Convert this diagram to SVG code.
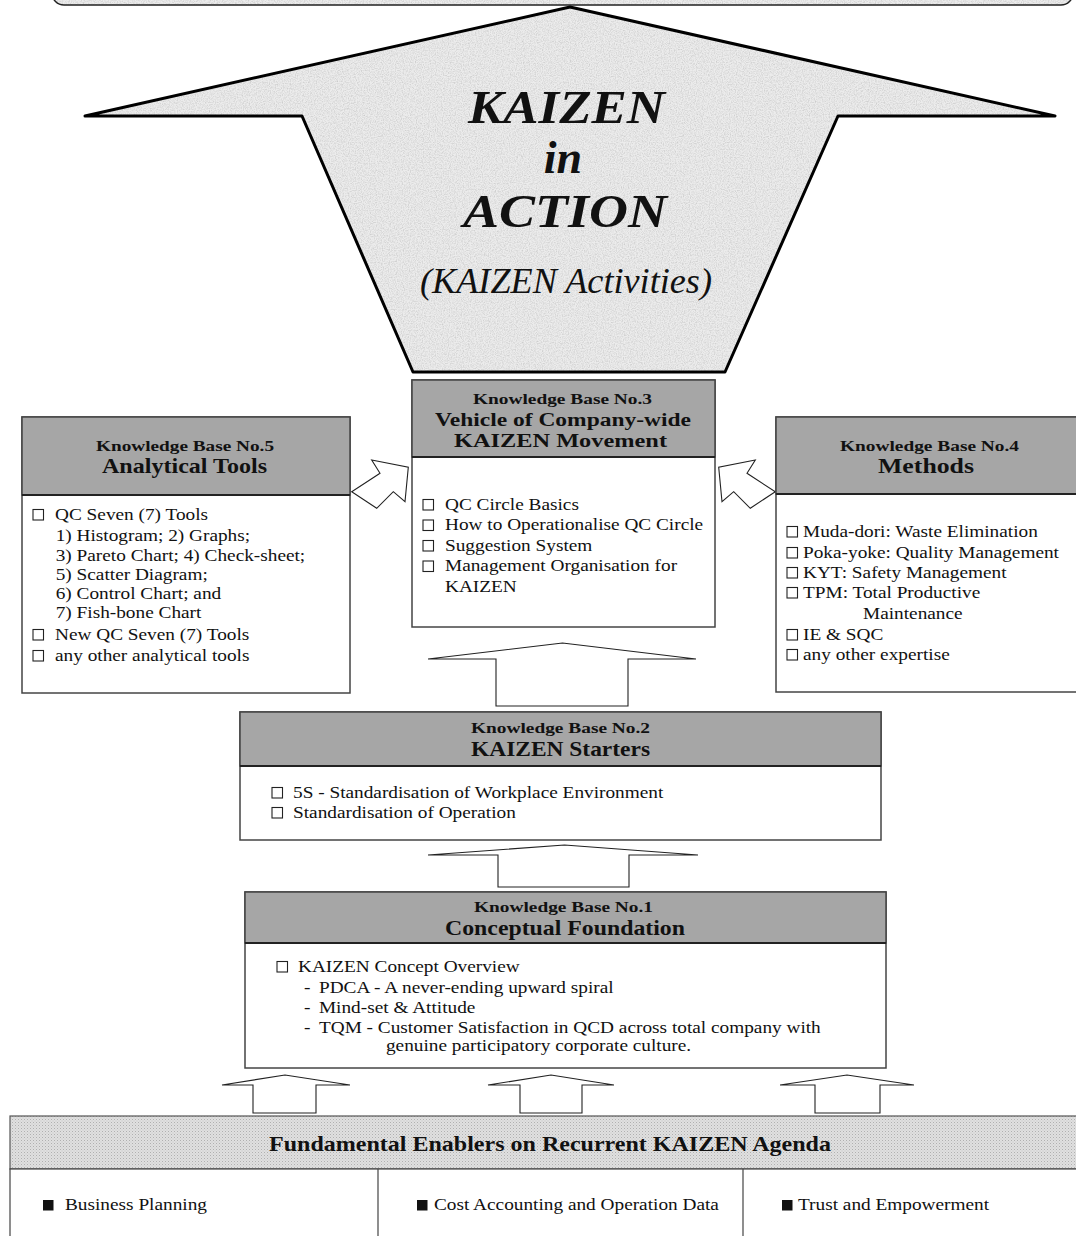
<svg xmlns="http://www.w3.org/2000/svg" width="1076" height="1236" viewBox="0 0 1076 1236">
<style>
text{font-family:"Liberation Serif","Times New Roman",serif;fill:#111}
.b{font-size:16.5px}
.hk{font-size:15px;font-weight:bold;text-anchor:middle}
.ht{font-size:21px;font-weight:bold;text-anchor:middle}
.ht3{font-size:18px;font-weight:bold;text-anchor:middle}
.box{fill:#fff;stroke:#444;stroke-width:1.5}
.hdr{fill:#a6a6a6;stroke:#444;stroke-width:1.5}
.hl{stroke:#222;stroke-width:2}
.cb{fill:#fff;stroke:#222;stroke-width:1.1}
.sq{fill:#111}
.arr{fill:#fff;stroke:#222;stroke-width:1.1;stroke-linejoin:miter}
.big{font-weight:bold;font-style:italic;font-size:46px;text-anchor:middle}
</style>
<defs>
<filter id="grain" x="0" y="0" width="100%" height="100%">
<feTurbulence type="fractalNoise" baseFrequency="0.85" numOctaves="2" seed="4" result="n"/>
<feColorMatrix in="n" type="matrix" values="0 0 0 0 0.55 0 0 0 0 0.55 0 0 0 0 0.55 1.6 0 0 0 -0.6" result="g"/>
<feComposite in="g" in2="SourceAlpha" operator="in" result="gm"/>
<feMerge><feMergeNode in="SourceGraphic"/><feMergeNode in="gm"/></feMerge>
</filter>
<pattern id="dots" width="3" height="3" patternUnits="userSpaceOnUse">
<rect width="3" height="3" fill="#e0e0e0"/><rect width="1" height="1" fill="#b0b0b0"/><rect x="1.5" y="1.5" width="1" height="1" fill="#c4c4c4"/>
</pattern>
</defs>
<rect width="1076" height="1236" fill="#fff"/>

<g id="top-bar">
<rect x="52" y="-30" width="1021" height="35" rx="12" fill="#ececec" filter="url(#grain)"/>
<rect x="52" y="-30" width="1021" height="35" rx="12" fill="none" stroke="#222" stroke-width="1.5"/>
</g>

<g id="kaizen-in-action">
<polygon points="570,7 1055,116 838,116 725,372 413,372 302,116 85,116" fill="#ececec" filter="url(#grain)"/>
<polygon points="570,7 1055,116 838,116 725,372 413,372 302,116 85,116" fill="none" stroke="#000" stroke-width="3" stroke-linejoin="round"/>
<text class="big" x="566.5" y="123" textLength="197" lengthAdjust="spacingAndGlyphs">KAIZEN</text>
<text class="big" x="563" y="173">in</text>
<text class="big" x="565" y="227" textLength="204" lengthAdjust="spacingAndGlyphs">ACTION</text>
<text x="566" y="293" style="font-size:36px;font-style:italic;text-anchor:middle" textLength="292" lengthAdjust="spacingAndGlyphs">(KAIZEN Activities)</text>
</g>

<g id="connectors">
<polygon class="arr" points="371.7,460 408.3,467.3 405,501.7 393.3,491.7 376.7,508.3 351.7,491.7 380,473.3"/>
<polygon class="arr" points="755.3,460 718.7,467.3 722,501.7 733.7,491.7 750.3,508.3 775.3,491.7 747,473.3"/>
<polygon class="arr" points="428,659 562.5,643 696,659 628,659 628,706 496,706 496,659"/>
<polygon class="arr" points="428,855 564.5,845 698,855 629,855 629,887 498,887 498,855"/>
<polygon class="arr" points="222,1085 285,1075 350,1085 316,1085 316,1113 253,1113 253,1085"/>
<polygon class="arr" points="488,1085 551,1075 614,1085 582,1085 582,1113 520,1113 520,1085"/>
<polygon class="arr" points="780,1085 847,1075 914,1085 880,1085 880,1113 815,1113 815,1085"/>
</g>

<g id="kb3">
<rect class="box" x="412" y="380" width="303" height="247"/>
<rect class="hdr" x="412" y="380" width="303" height="77"/>
<line class="hl" x1="412" y1="457" x2="715" y2="457"/>
<text class="hk" x="562.5" y="404" textLength="179" lengthAdjust="spacingAndGlyphs">Knowledge Base No.3</text>
<text class="ht3" x="563" y="426" textLength="256" lengthAdjust="spacingAndGlyphs">Vehicle of Company-wide</text>
<text class="ht3" x="560.5" y="447" textLength="213" lengthAdjust="spacingAndGlyphs">KAIZEN Movement</text>
<rect class="cb" x="423" y="499.5" width="10.5" height="10.5"/>
<rect class="cb" x="423" y="520" width="10.5" height="10.5"/>
<rect class="cb" x="423" y="540.5" width="10.5" height="10.5"/>
<rect class="cb" x="423" y="561" width="10.5" height="10.5"/>
<g transform="translate(445 0) scale(1.17 1)">
<text class="b" x="0" y="510">QC Circle Basics</text>
<text class="b" x="0" y="530.5">How to Operationalise QC Circle</text>
<text class="b" x="0" y="551">Suggestion System</text>
<text class="b" x="0" y="571.5">Management  Organisation  for</text>
<text class="b" x="0" y="592">KAIZEN</text>
</g>
</g>

<g id="kb5">
<rect class="box" x="22" y="417" width="328" height="276"/>
<rect class="hdr" x="22" y="417" width="328" height="78"/>
<line class="hl" x1="22" y1="495" x2="350" y2="495"/>
<text class="hk" x="185" y="451" textLength="178" lengthAdjust="spacingAndGlyphs">Knowledge Base No.5</text>
<text class="ht" x="184.5" y="473" textLength="165" lengthAdjust="spacingAndGlyphs">Analytical  Tools</text>
<rect class="cb" x="33" y="509.5" width="10.5" height="10.5"/>
<rect class="cb" x="33" y="629.5" width="10.5" height="10.5"/>
<rect class="cb" x="33" y="650.5" width="10.5" height="10.5"/>
<g transform="translate(55 0) scale(1.17 1)">
<text class="b" x="0" y="520">QC Seven (7) Tools</text>
<text class="b" x="0.6" y="541">1) Histogram; 2) Graphs;</text>
<text class="b" x="0.6" y="561">3) Pareto Chart; 4) Check-sheet;</text>
<text class="b" x="0.6" y="580">5) Scatter Diagram;</text>
<text class="b" x="0.6" y="599">6) Control Chart; and</text>
<text class="b" x="0.6" y="618">7) Fish-bone Chart</text>
<text class="b" x="0" y="640">New QC Seven (7) Tools</text>
<text class="b" x="0" y="661">any other analytical  tools</text>
</g>
</g>

<g id="kb4">
<rect class="box" x="776" y="417" width="310" height="275"/>
<rect class="hdr" x="776" y="417" width="310" height="77"/>
<line class="hl" x1="776" y1="494" x2="1086" y2="494"/>
<text class="hk" x="929.5" y="451" textLength="179" lengthAdjust="spacingAndGlyphs">Knowledge Base No.4</text>
<text class="ht" x="926" y="473" textLength="96" lengthAdjust="spacingAndGlyphs">Methods</text>
<rect class="cb" x="787" y="526.5" width="10.5" height="10.5"/>
<rect class="cb" x="787" y="547.5" width="10.5" height="10.5"/>
<rect class="cb" x="787" y="567.5" width="10.5" height="10.5"/>
<rect class="cb" x="787" y="587.5" width="10.5" height="10.5"/>
<rect class="cb" x="787" y="629.5" width="10.5" height="10.5"/>
<rect class="cb" x="787" y="649.5" width="10.5" height="10.5"/>
<g transform="translate(803 0) scale(1.17 1)">
<text class="b" x="0" y="537">Muda-dori: Waste Elimination</text>
<text class="b" x="0" y="558">Poka-yoke: Quality Management</text>
<text class="b" x="0" y="578">KYT:  Safety Management</text>
<text class="b" x="0" y="598">TPM:  Total Productive</text>
<text class="b" x="51.3" y="619">Maintenance</text>
<text class="b" x="0" y="640">IE &amp; SQC</text>
<text class="b" x="0" y="660">any other expertise</text>
</g>
</g>

<g id="kb2">
<rect class="box" x="240" y="712" width="641" height="128"/>
<rect class="hdr" x="240" y="712" width="641" height="54"/>
<line class="hl" x1="240" y1="766" x2="881" y2="766"/>
<text class="hk" x="560.5" y="733" textLength="179" lengthAdjust="spacingAndGlyphs">Knowledge Base No.2</text>
<text class="ht" x="560.5" y="756" textLength="179" lengthAdjust="spacingAndGlyphs">KAIZEN Starters</text>
<rect class="cb" x="272" y="787.5" width="10.5" height="10.5"/>
<rect class="cb" x="272" y="807.5" width="10.5" height="10.5"/>
<g transform="translate(293 0) scale(1.17 1)">
<text class="b" x="0" y="798">5S - Standardisation  of Workplace Environment</text>
<text class="b" x="0" y="818">Standardisation  of Operation</text>
</g>
</g>

<g id="kb1">
<rect class="box" x="245" y="892" width="641" height="176"/>
<rect class="hdr" x="245" y="892" width="641" height="51"/>
<line class="hl" x1="245" y1="943" x2="886" y2="943"/>
<text class="hk" x="563.5" y="912" textLength="179" lengthAdjust="spacingAndGlyphs">Knowledge Base No.1</text>
<text class="ht" x="565" y="935" textLength="240" lengthAdjust="spacingAndGlyphs">Conceptual  Foundation</text>
<rect class="cb" x="277" y="961.5" width="10.5" height="10.5"/>
<g transform="translate(298 0) scale(1.17 1)">
<text class="b" x="0" y="972">KAIZEN  Concept Overview</text>
<text class="b" x="5.1" y="993">-</text>
<text class="b" x="17.9" y="993">PDCA - A never-ending upward  spiral</text>
<text class="b" x="5.1" y="1013">-</text>
<text class="b" x="17.9" y="1013">Mind-set &amp; Attitude</text>
<text class="b" x="5.1" y="1033">-</text>
<text class="b" x="17.9" y="1033">TQM  - Customer Satisfaction in QCD across total company  with</text>
<text class="b" x="75.2" y="1051">genuine  participatory corporate culture.</text>
</g>
</g>

<g id="enablers">
<rect x="10" y="1116" width="1080" height="53" fill="url(#dots)" stroke="#555" stroke-width="1.2"/>
<rect x="10" y="1169" width="1080" height="80" fill="#fff" stroke="#444" stroke-width="1.2"/>
<line x1="378" y1="1169" x2="378" y2="1236" stroke="#444" stroke-width="1.2"/>
<line x1="743" y1="1169" x2="743" y2="1236" stroke="#444" stroke-width="1.2"/>
<text x="550" y="1151" style="font-size:21px;font-weight:bold;text-anchor:middle" textLength="562" lengthAdjust="spacingAndGlyphs">Fundamental Enablers on Recurrent  KAIZEN Agenda</text>
<rect class="sq" x="43" y="1200" width="10.5" height="10.5"/>
<rect class="sq" x="417" y="1200" width="10.5" height="10.5"/>
<rect class="sq" x="782" y="1200" width="10.5" height="10.5"/>
<text class="b" x="0" y="1210" transform="translate(65 0) scale(1.17 1)">Business Planning</text>
<text class="b" x="0" y="1210" transform="translate(434 0) scale(1.17 1)">Cost Accounting and Operation Data</text>
<text class="b" x="0" y="1210" transform="translate(798 0) scale(1.17 1)">Trust and Empowerment</text>
</g>
</svg>
